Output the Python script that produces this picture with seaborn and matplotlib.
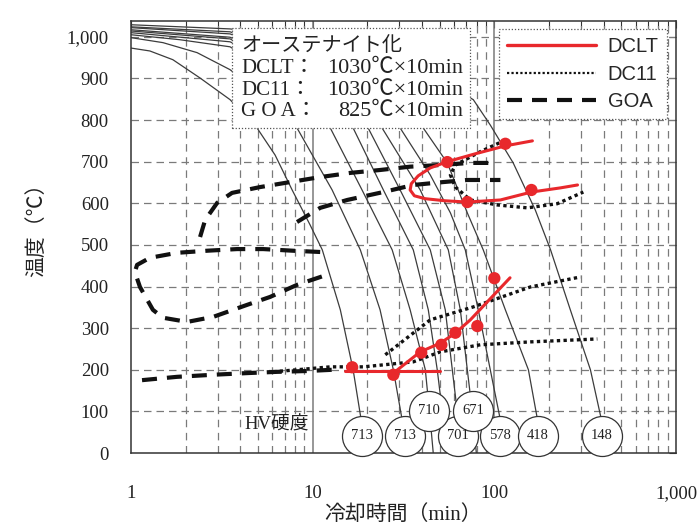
import matplotlib
matplotlib.use("Agg")
import matplotlib.pyplot as plt
import seaborn as sns
from matplotlib.lines import Line2D
from matplotlib.patches import Rectangle
from matplotlib.ticker import FixedLocator, NullFormatter, NullLocator

# ---------------- data ----------------
x_ticks = [1, 10, 100, 1000]
x_tick_labels = ["1", "10", "100", "1,000"]
y_ticks = [0, 100, 200, 300, 400, 500, 600, 700, 800, 900, 1000]
y_tick_labels = ["0", "100", "200", "300", "400", "500", "600", "700", "800", "900", "1,000"]

# cooling curves (time [min], temperature [C])
cc1_t = [1, 1.27, 1.70, 2.40, 3.51, 4.94, 6.21, 7.71, 9.68, 11.3, 14.2, 16.7, 18.5, 19.5]
cc1_T = [973, 966, 945, 901, 849, 781, 716, 632, 548, 488, 344, 200, 79, 0]
cc2_t = [1, 1.50, 2.31, 3.51, 5.47, 8.2, 12.8, 18.3, 23.5, 27.8, 31.1, 32.7]
cc2_T = [998, 986, 962, 921, 856, 781, 632, 488, 344, 200, 79, 0]
cc3_t = [1, 1.86, 3.51, 6.62, 12.5, 18.7, 27.4, 34.4, 41.7, 44.4, 46.1]
cc3_T = [1005, 993, 976, 897, 781, 632, 488, 344, 200, 79, 0]
cc4_t = [1, 3.51, 8.53, 16.7, 24.5, 35.8, 43.3, 48.5, 52.4, 54.4]
cc4_T = [1010, 988, 909, 781, 632, 488, 344, 200, 79, 0]
cc5_t = [1, 3.51, 9.68, 20.2, 30.3, 44.4, 53.7, 58.7, 63.3, 65.8]
cc5_T = [1014, 995, 897, 781, 632, 488, 344, 200, 79, 0]
cc6_t = [1, 3.51, 11.0, 24.1, 39.1, 55.8, 65.0, 71.0, 76.6, 79.6]
cc6_T = [1017, 999, 897, 781, 632, 488, 344, 200, 79, 0]
cc7_t = [1, 3.51, 12.5, 30.3, 44.4, 57.3, 69.2, 81.6, 95.0, 108, 113]
cc7_T = [1022, 1007, 909, 781, 668, 577, 488, 344, 200, 79, 0]
cc8_t = [1, 3.51, 14.2, 40.6, 55.1, 71.0, 86.9, 115, 154, 173, 181]
cc8_T = [1024, 1012, 921, 781, 697, 577, 488, 344, 200, 79, 0]
cc9_t = [1, 3.51, 16.1, 44.4, 76.6, 95.0, 127, 168, 204, 262, 338, 389, 414]
cc9_T = [1029, 1019, 981, 909, 849, 788, 697, 584, 488, 344, 200, 79, 0]

# hardness (HV) circles
hv_labels = ["713", "713", "701", "578", "418", "148", "710", "671"]
hv_t = [18.8, 32.3, 63.3, 108, 173, 389, 43.9, 76.6]
hv_T = [41, 41, 41, 41, 41, 41, 101, 101]

# DCLT
dclt_nose_t = [162, 115, 78.6, 55.1, 44.4, 38.1, 34.9, 34.4, 36.3, 41.7, 53.7, 71.0, 108, 160, 231, 287]
dclt_nose_T = [750, 738, 719, 700, 685, 666, 647, 632, 618, 611, 606, 603, 608, 627, 637, 644]
dclt_flat_t = [15.1, 50.4]
dclt_flat_T = [197, 197]
dclt_rise_t = [27.8, 39.1, 50.4, 61.0, 73.8, 122]
dclt_rise_T = [192, 243, 264, 288, 320, 421]
dclt_pts_t = [115, 55.1, 71.0, 160, 16.5, 27.8, 39.6, 51.1, 61.0, 80.6, 100]
dclt_pts_T = [743, 699, 603, 632, 206, 188, 241, 260, 289, 305, 420]

# DC11
dc11_nose_t = [115, 83.7, 61.0, 57.3, 61.0, 73.8, 104, 152, 222, 309]
dc11_nose_T = [752, 724, 692, 668, 639, 608, 596, 589, 599, 627]
dc11_mid_t = [25.1, 44.4, 76.6, 158, 298]
dc11_mid_T = [236, 320, 351, 399, 423]
dc11_low_t = [6.06, 12.5, 19.0, 35.8, 50.4, 83.7, 158, 369]
dc11_low_T = [195, 207, 207, 219, 243, 260, 267, 274]

# GOA
goa_up_t = [2.40, 2.56, 2.98, 3.60, 5.14, 7.52, 11.0, 16.1, 23.5, 34.4, 50.4, 73.8, 101]
goa_up_T = [519, 560, 601, 625, 639, 651, 663, 673, 680, 688, 692, 697, 697]
goa_up2_t = [8.2, 11.0, 15.5, 24.5, 35.8, 52.4, 71.0, 108]
goa_up2_T = [555, 589, 608, 627, 644, 651, 656, 656]
goa_mid_t = [11.0, 7.81, 5.34, 3.84, 2.62, 1.79, 1.27, 1.08, 1.05, 1.12, 1.32, 1.50, 2.04, 2.83, 4.36, 5.83, 8.2, 11.4]
goa_mid_T = [483, 486, 490, 490, 486, 481, 469, 452, 435, 399, 344, 325, 315, 327, 356, 375, 404, 425]
goa_low_t = [1.15, 1.79, 2.83, 4.36, 6.37, 9.33, 12.9]
goa_low_T = [175, 183, 188, 192, 195, 197, 200]

series_names = ["DCLT", "DC11", "GOA"]
info_labels = ["DCLT：", "DC11：", "G O A："]
info_values = ["1030℃×10min", "1030℃×10min", "825℃×10min"]

# ---------------- style ----------------
sns.set_theme(style="white")
plt.rcParams["font.family"] = ["Liberation Serif", "Noto Sans CJK JP", "DejaVu Sans"]
plt.rcParams["axes.unicode_minus"] = False

RED = "#e8282c"
GRID = "#7a7a7a"
CURVE = "#3c3c3c"
DOT = (0, (1.0, 1.0))
DASH = (0, (3.6, 2.4))

fig = plt.figure(figsize=(7.0, 5.28), dpi=100)
ax = fig.add_axes([131 / 700, 75 / 528, 545 / 700, 432 / 528])
ax.set_xscale("log")
ax.set_xlim(1, 1000)
ax.set_ylim(0, 1038)

# grid
for dec in [1, 10, 100]:
    for m in range(2, 10):
        ax.axvline(dec * m, color=GRID, lw=0.9, ls=(0, (6, 4.5)), zorder=1)
for v in [10, 100]:
    ax.axvline(v, color=GRID, lw=1.1, zorder=1)
for h in y_ticks[1:]:
    ax.axhline(h, color=GRID, lw=0.9, ls=(0, (6, 4)), zorder=1)

# cooling curves
for t, T in [(cc1_t, cc1_T), (cc2_t, cc2_T), (cc3_t, cc3_T), (cc4_t, cc4_T), (cc5_t, cc5_T),
             (cc6_t, cc6_T), (cc7_t, cc7_T), (cc8_t, cc8_T), (cc9_t, cc9_T)]:
    sns.lineplot(x=t, y=T, sort=False, estimator=None, ax=ax, color=CURVE, linewidth=0.9, zorder=2)

# GOA
for t, T in [(goa_up_t, goa_up_T), (goa_up2_t, goa_up2_T), (goa_mid_t, goa_mid_T), (goa_low_t, goa_low_T)]:
    sns.lineplot(x=t, y=T, sort=False, estimator=None, ax=ax, color="#111111", linewidth=3.0,
                 linestyle=DASH, zorder=3)
# DC11
for t, T in [(dc11_nose_t, dc11_nose_T), (dc11_mid_t, dc11_mid_T), (dc11_low_t, dc11_low_T)]:
    sns.lineplot(x=t, y=T, sort=False, estimator=None, ax=ax, color="#111111", linewidth=2.4,
                 linestyle=DOT, zorder=3.5)
# DCLT
for t, T in [(dclt_nose_t, dclt_nose_T), (dclt_flat_t, dclt_flat_T), (dclt_rise_t, dclt_rise_T)]:
    sns.lineplot(x=t, y=T, sort=False, estimator=None, ax=ax, color=RED, linewidth=2.2, zorder=4)
sns.scatterplot(x=dclt_pts_t, y=dclt_pts_T, ax=ax, color=RED, s=78, edgecolor="none", zorder=5)

# hardness circles
ax.scatter(hv_t, hv_T, s=830, facecolor="white", edgecolor="#333333", linewidth=0.9, zorder=6, clip_on=False)
for lab, t, T in zip(hv_labels, hv_t, hv_T):
    ax.text(t, T, lab, ha="center", va="center", fontsize=10.5, color="#222222", zorder=7)
ax.text(6.3, 67, "HV硬度", ha="center", va="center", fontsize=13.5, color="#222222", zorder=5)

# axes, ticks
ax.set_xlabel("")
ax.set_ylabel("")
ax.xaxis.set_major_locator(FixedLocator(x_ticks))
ax.set_xticklabels(x_tick_labels)
ax.yaxis.set_major_locator(FixedLocator(y_ticks))
ax.set_yticklabels(y_tick_labels)
ax.xaxis.set_minor_formatter(NullFormatter())
ax.yaxis.set_minor_locator(NullLocator())
ax.tick_params(axis="both", which="both", direction="in", top=True, right=True,
               color="#333333", width=0.8, labelsize=13.5, labelcolor="#222222")
ax.tick_params(axis="both", which="major", length=5)
ax.tick_params(axis="both", which="minor", length=4)
ax.tick_params(axis="x", which="major", pad=23)
ax.tick_params(axis="y", which="major", pad=16)
for s in ax.spines.values():
    s.set_color("#333333")
    s.set_linewidth(1.1)

fig.text(403 / 700, 1 - 515 / 528, "冷却時間（min）", ha="center", va="center", fontsize=15, color="#222222")
fig.text(37 / 700, 1 - 225 / 528, "温度（℃）", ha="center", va="center", rotation=90, fontsize=15, color="#222222")

# info box
ax.add_patch(Rectangle((0.1853, 0.752), 0.4367, 0.232, transform=ax.transAxes, facecolor="white",
                       edgecolor="#555555", linestyle=(0, (1, 1.5)), linewidth=0.9, zorder=8))
ax.text(0.2018, 0.942, "オーステナイト化", transform=ax.transAxes, ha="left", va="center",
        fontsize=14.5, color="#222222", zorder=9)
for i, (lab, val) in enumerate(zip(info_labels, info_values)):
    y = [0.889, 0.840, 0.791][i]
    ax.text(0.2018, y, lab, transform=ax.transAxes, ha="left", va="center", fontsize=15,
            color="#222222", zorder=9)
    ax.text(0.609, y, val, transform=ax.transAxes, ha="right", va="center", fontsize=16,
            color="#222222", zorder=9)

# legend
handles = [Line2D([], [], color=RED, lw=2.4),
           Line2D([], [], color="#111111", lw=1.6, linestyle=(0, (1, 1))),
           Line2D([], [], color="#111111", lw=3.0, linestyle=DASH)]
leg = ax.legend(handles, series_names, loc="upper right", bbox_to_anchor=(0.983, 0.981),
                borderaxespad=0, frameon=True, fancybox=False, framealpha=1,
                prop={"family": "Liberation Sans", "size": 14.5}, handlelength=4.4,
                handletextpad=0.6, labelspacing=0.42, borderpad=0.4)
leg.set_zorder(10)
fr = leg.get_frame()
fr.set_edgecolor("#555555")
fr.set_linestyle((0, (1, 1.5)))
fr.set_linewidth(0.9)

fig.savefig("out.png", dpi=100)
